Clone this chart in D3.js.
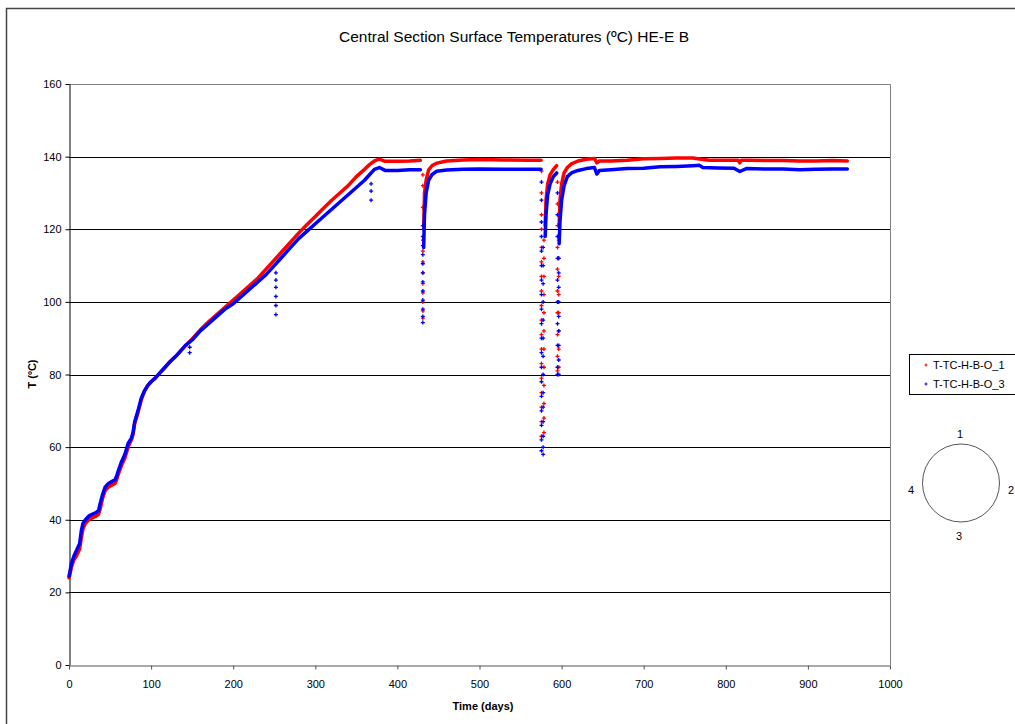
<!DOCTYPE html>
<html>
<head>
<meta charset="utf-8">
<script src="https://cdn.jsdelivr.net/npm/d3@7"></script>
<style>
body { margin: 0; background: #fff; }
text { font-family: Arial, "Liberation Sans", sans-serif; fill: #000; }
</style>
</head>
<body>
<script>
var width = 1015,
    height = 724;

// T-TC-H-B-O_1 (red), null temperature = gap in the trace
var redDays = [0, 1, 3, 6, 9, 13, 15, 17, 20, 24, 28, 33, 36, 38, 41, 44, 48, 52, 56, 58, 60, 64, 68, 72, 76, 78, 80, 84, 88, 92, 96, 100,
    105, 111, 117, 123, 130, 136, 142, 150, 160, 170, 180, 190, 200, 210, 220, 230, 240, 250, 260, 270, 280, 290, 300, 310, 320, 330,
    340, 350, 360, 366, 372, 378, 385, 400, 415, 428, 429,
    432, 433, 435, 438, 442, 448, 460, 480, 500, 530, 560, 575, 576,
    580, 581, 583, 586, 590, 594, 595,
    597, 598, 600, 603, 607, 612, 620, 630, 640, 643, 646, 660, 680, 700, 720, 740, 760, 770, 780, 800, 815, 817, 819, 830, 850, 870, 890, 910, 930, 948];
var redTemps = [24, 24.8, 27, 29, 30, 32, 35, 37.5, 39, 40, 40.5, 41, 41.5, 43, 46, 48, 49, 49.5, 50, 51, 52.5, 55, 57, 60, 62, 63.5, 66.5, 69.5, 73, 75.5, 77, 78,
    79, 80.5, 82, 83.5, 85, 86.5, 88, 89.8, 92.3, 94.5, 96.5, 98.5, 100.5, 102.5, 104.5, 106.5, 109, 111.5, 114, 116.5, 119, 121.3, 123.5, 125.8, 128, 130,
    132, 134.5, 136.5, 137.8, 138.8, 139.3, 138.7, 138.7, 138.8, 139, null,
    120, 130, 133.5, 136.3, 137.5, 138.2, 138.8, 139.1, 139.2, 139.1, 139, 139, null,
    121, 128, 132.5, 135, 136.5, 137.5, null,
    121, 128, 132.5, 135.5, 137, 138, 138.8, 139.3, 139.5, 138.3, 138.8, 138.8, 139, 139.4, 139.5, 139.6, 139.6, 139.3, 139, 139, 139, 138.3, 139, 139, 138.9, 138.9, 138.8, 138.8, 138.9, 138.8];

// T-TC-H-B-O_3 (blue)
var blueDays = [0, 1, 3, 6, 9, 13, 15, 17, 20, 24, 28, 33, 36, 38, 41, 44, 48, 52, 56, 58, 60, 64, 68, 72, 76, 78, 80, 84, 88, 92, 96, 100,
    105, 111, 117, 123, 130, 136, 142, 150, 160, 170, 180, 190, 200, 210, 220, 230, 240, 250, 260, 270, 280, 290, 300, 310, 320, 330,
    340, 350, 360, 366, 372, 378, 385, 400, 415, 428, 429,
    432, 433, 435, 438, 442, 448, 460, 480, 500, 530, 560, 575, 576,
    580, 581, 583, 586, 590, 594, 595,
    597, 598, 600, 603, 607, 612, 620, 630, 640, 643, 646, 660, 680, 700, 720, 740, 760, 768, 772, 790, 810, 817, 825, 850, 870, 890, 910, 930, 948];
var blueTemps = [24.5, 25.5, 28, 30, 31.5, 33.5, 37, 39, 40, 41, 41.5, 42, 42.5, 44.5, 47, 49, 50, 50.5, 51, 52, 53.5, 56, 58, 61, 62.5, 64, 67, 70, 73.5, 75.5, 77, 78,
    79, 80.5, 82, 83.5, 85, 86.5, 88, 89.5, 92, 94, 96, 98, 99.5, 101.5, 103.5, 105.5, 107.5, 110, 112.5, 115, 117.5, 119.5, 121.5, 123.5, 125.5, 127.5,
    129.5, 131.5, 133.5, 135, 136.5, 137, 136.2, 136.2, 136.4, 136.4, null,
    115, 124, 130, 133.5, 135, 136, 136.3, 136.5, 136.6, 136.5, 136.5, 136.5, null,
    118, 124, 129.5, 132.5, 134.5, 135.5, null,
    116, 122, 128, 132, 134.5, 135.5, 136.2, 136.7, 137, 135.2, 136.2, 136.4, 136.7, 136.8, 137.2, 137.3, 137.5, 137.6, 137, 136.9, 136.8, 135.9, 136.7, 136.6, 136.6, 136.4, 136.5, 136.6, 136.6];

// scattered readings in the sudden drops: [day, temperatures]
var redDips = [
    [431, [135, 132, 126, 117, 114, 111, 108, 105, 102.5, 100, 97.5, 95.5]],
    [575.5, [136, 130, 124, 120, 115, 111, 107, 103, 99, 95, 91, 87, 83, 79, 75, 71, 67, 63]],
    [578.5, [64, 68, 72, 77, 82, 87, 92, 97, 102, 107, 112, 117]],
    [595, [133, 127, 121, 115, 109, 103, 97, 91, 85, 81]],
    [596.5, [82, 87, 92, 97, 102, 107, 112, 117]]
];
var blueDips = [
    [147, [86, 87.5]],
    [252, [96.5, 99, 101.5, 104, 106, 108]],
    [368, [128, 130.5, 132.5]],
    [431, [94.3, 96, 98, 100.5, 103, 105.5, 108, 110.5, 113, 115.5, 118, 121]],
    [575.5, [133, 128, 122, 118, 114, 110, 106, 102, 98, 94, 90, 86, 82, 78, 74, 70, 66, 62, 59]],
    [577.5, [58, 60, 63, 67, 71, 75, 80, 85, 90, 95, 100, 105, 110, 115]],
    [595, [130, 124, 118, 112, 106, 100, 94, 88, 82, 80]],
    [596.5, [80, 84, 88, 92, 96, 100, 104, 108, 112]]
];

var xTicks = [0, 100, 200, 300, 400, 500, 600, 700, 800, 900, 1000];
var yTicks = [0, 20, 40, 60, 80, 100, 120, 140, 160];
var seriesNames = ["T-TC-H-B-O_1", "T-TC-H-B-O_3"];
var seriesColors = ["#ff0000", "#0000ff"];
var circleLabels = ["1", "2", "3", "4"];

var svg = d3.select("body").append("svg")
            .attr("width", width)
            .attr("height", height);

// outer chart frame (runs off the right and bottom of the picture)
svg.append("rect")
   .attr("x", 6.5)
   .attr("y", 8.5)
   .attr("width", width + 10)
   .attr("height", height + 10)
   .attr("fill", "none")
   .attr("stroke", "#444")
   .attr("stroke-width", 1.5);

var x = d3.scaleLinear().domain([0, 1000]).range([69, 890]);
var y = d3.scaleLinear().domain([0, 160]).range([665, 84]);

//gridlines
svg.append("g")
   .selectAll("line")
   .data(yTicks.filter(function(d) { return d > 0 && d < 160; }))
   .enter().append("line")
   .attr("x1", x(0))
   .attr("x2", x(1000))
   .attr("y1", function(d) { return Math.round(y(d)) + 0.5; })
   .attr("y2", function(d) { return Math.round(y(d)) + 0.5; })
   .attr("stroke", "#000")
   .attr("stroke-width", 1);

// plot border top & right
svg.append("path")
   .attr("d", "M" + x(0) + "," + (Math.round(y(160)) + 0.5) + "H" + (Math.round(x(1000)) + 0.5) + "V" + y(0))
   .attr("fill", "none")
   .attr("stroke", "#808080")
   .attr("stroke-width", 1);

var yAxis = svg.append("g")
   .attr("transform", "translate(" + (Math.round(x(0)) + 0.5) + ",0)")
   .call(d3.axisLeft(y).tickValues(yTicks).tickSize(4).tickPadding(4).tickSizeOuter(0));
yAxis.select(".domain").attr("stroke", "#000");
yAxis.selectAll("text").attr("font-size", 11).attr("font-family", "Arial, 'Liberation Sans', sans-serif").attr("fill", "#000");

var xAxis = svg.append("g")
   .attr("transform", "translate(0," + (Math.round(y(0)) + 0.5) + ")")
   .call(d3.axisBottom(x).tickValues(xTicks).tickFormat(d3.format("d")).tickSize(4).tickPadding(11).tickSizeOuter(0));
xAxis.select(".domain").attr("stroke", "#555");
xAxis.selectAll(".tick line").attr("stroke", "#555");
xAxis.selectAll("text").attr("font-size", 11).attr("font-family", "Arial, 'Liberation Sans', sans-serif").attr("fill", "#000");

// the traces
var line = d3.line()
             .defined(function(d) { return d[1] != null; })
             .x(function(d) { return x(d[0]); })
             .y(function(d) { return y(d[1]); });

var crossPath = "M-2,0H2M0,-2V2";

function drawSeries(days, temps, dips, color) {
    var pts = days.map(function(d, i) { return [d, temps[i]]; });
    svg.append("path")
       .datum(pts)
       .attr("d", line)
       .attr("fill", "none")
       .attr("stroke", color)
       .attr("stroke-width", 3.5)
       .attr("stroke-linejoin", "round")
       .attr("stroke-linecap", "round");

    var dots = [];
    dips.forEach(function(c) {
        c[1].forEach(function(t) { dots.push([c[0], t]); });
    });
    svg.append("g")
       .selectAll("path")
       .data(dots)
       .enter().append("path")
       .attr("d", crossPath)
       .attr("transform", function(d) { return "translate(" + x(d[0]) + "," + y(d[1]) + ")"; })
       .attr("stroke", color)
       .attr("stroke-width", 1.3);
}

drawSeries(redDays, redTemps, redDips, seriesColors[0]);
drawSeries(blueDays, blueTemps, blueDips, seriesColors[1]);

// title and axis titles
svg.append("text")
   .attr("x", 514)
   .attr("y", 42)
   .attr("text-anchor", "middle")
   .attr("font-size", 15.5)
   .text("Central Section Surface Temperatures (ºC) HE-E B");

svg.append("text")
   .attr("transform", "translate(36,374) rotate(-90)")
   .attr("text-anchor", "middle")
   .attr("font-size", 11)
   .attr("font-weight", "bold")
   .text("T (ºC)");

svg.append("text")
   .attr("x", 483)
   .attr("y", 710)
   .attr("text-anchor", "middle")
   .attr("font-size", 11)
   .attr("font-weight", "bold")
   .text("Time (days)");

// legend
svg.append("rect")
   .attr("x", 909.5)
   .attr("y", 354.5)
   .attr("width", 120)
   .attr("height", 40)
   .attr("fill", "#fff")
   .attr("stroke", "#000")
   .attr("stroke-width", 1);

var legend = svg.append("g")
   .selectAll("g")
   .data(seriesNames)
   .enter().append("g")
   .attr("transform", function(d, i) { return "translate(926," + (365 + i * 19) + ")"; });

legend.append("path")
      .attr("d", "M-1.5,0H1.5M0,-1.5V1.5")
      .attr("stroke", function(d, i) { return seriesColors[i]; })
      .attr("stroke-width", 1);

legend.append("text")
      .attr("x", 7)
      .attr("y", 4)
      .attr("font-size", 11)
      .text(function(d) { return d; });

// section sketch with sensor positions
svg.append("ellipse")
   .attr("cx", 961)
   .attr("cy", 483)
   .attr("rx", 38.5)
   .attr("ry", 39)
   .attr("fill", "none")
   .attr("stroke", "#555")
   .attr("stroke-width", 1);

var labelPos = [[960, 438], [1011, 494], [959, 540], [911, 494]];
svg.append("g")
   .selectAll("text")
   .data(circleLabels)
   .enter().append("text")
   .attr("x", function(d, i) { return labelPos[i][0]; })
   .attr("y", function(d, i) { return labelPos[i][1]; })
   .attr("text-anchor", "middle")
   .attr("font-size", 11)
   .text(function(d) { return d; });
</script>
</body>
</html>
